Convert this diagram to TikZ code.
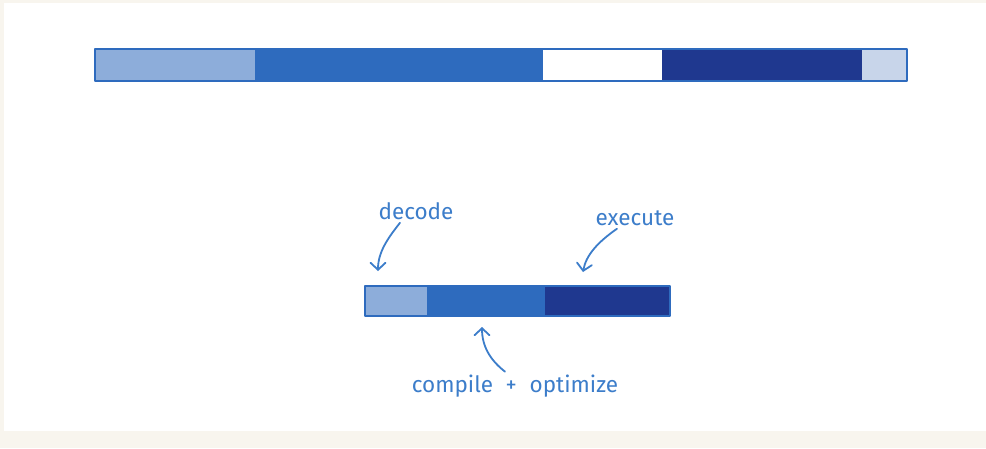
\documentclass[tikz,border=0pt]{standalone}
\usepackage{fontspec}
\setmainfont{Fira Sans}
\usetikzlibrary{arrows.meta}
\definecolor{bgcream}{HTML}{F8F5EE}
\definecolor{seglight}{HTML}{8DADDA}
\definecolor{segmid}{HTML}{2E6BBE}
\definecolor{segdark}{HTML}{1F388F}
\definecolor{segpale}{HTML}{C8D5EA}
\definecolor{inkblue}{HTML}{3C7DCA}
\tikzset{
  seg/.style={anchor=north west, inner sep=0pt, outer sep=0pt, draw=none},
  barline/.style={draw=segmid, line width=2.4pt, line join=round},
  lbl/.style={text=inkblue, font=\fontsize{22.5}{26}\selectfont, inner sep=1pt},
  arr/.style={draw=inkblue, line width=1.8pt, line cap=round,
    -{Straight Barb[length=7pt,width=15pt,line cap=round]}}
}
\begin{document}
\begin{tikzpicture}[x=1pt,y=-1pt]
\useasboundingbox (0,0) rectangle (986,448);
\fill[bgcream] (0,0) rectangle (986,448);
\fill[white] (4,3) rectangle (986,431);
% top bar
\node[seg, fill=seglight, minimum width=160pt, minimum height=32pt] (t1) at (95,49) {};
\node[seg, fill=segmid, minimum width=288pt, minimum height=32pt] (t2) at (t1.north east) {};
\node[seg, fill=white, minimum width=119pt, minimum height=32pt] (t3) at (t2.north east) {};
\node[seg, fill=segdark, minimum width=200pt, minimum height=32pt] (t4) at (t3.north east) {};
\node[seg, fill=segpale, minimum width=45pt, minimum height=32pt] (t5) at (t4.north east) {};
\draw[barline] (t1.north west) rectangle (t5.south east);
% bottom bar
\node[seg, fill=seglight, minimum width=62pt, minimum height=30pt] (b1) at (365,286) {};
\node[seg, fill=segmid, minimum width=118pt, minimum height=30pt] (b2) at (b1.north east) {};
\node[seg, fill=segdark, minimum width=125pt, minimum height=30pt] (b3) at (b2.north east) {};
\draw[barline] (b1.north west) rectangle (b3.south east);
% labels
\node[lbl] (dec) at (416,211) {decode};
\node[lbl] (exe) at (635,218) {execute};
\node[lbl] (cmp) at (515,386) {compile\hspace{0.3em} + \hspace{0.3em}optimize};
% arrow ends
\coordinate (decTip) at (378,271);
\coordinate (exeTip) at (583,272);
\coordinate (cmpTip) at (482,327);
\draw[arr] ([xshift=-16pt,yshift=-2pt]dec.south) .. controls (388,238) and (378,252) .. (decTip);
\draw[arr] ([xshift=-18pt,yshift=-2pt]exe.south) .. controls (598,242) and (586,255) .. (exeTip);
\draw[arr] ([xshift=-10pt,yshift=2pt]cmp.north) .. controls (490,360) and (482,346) .. (cmpTip);
\end{tikzpicture}
\end{document}
